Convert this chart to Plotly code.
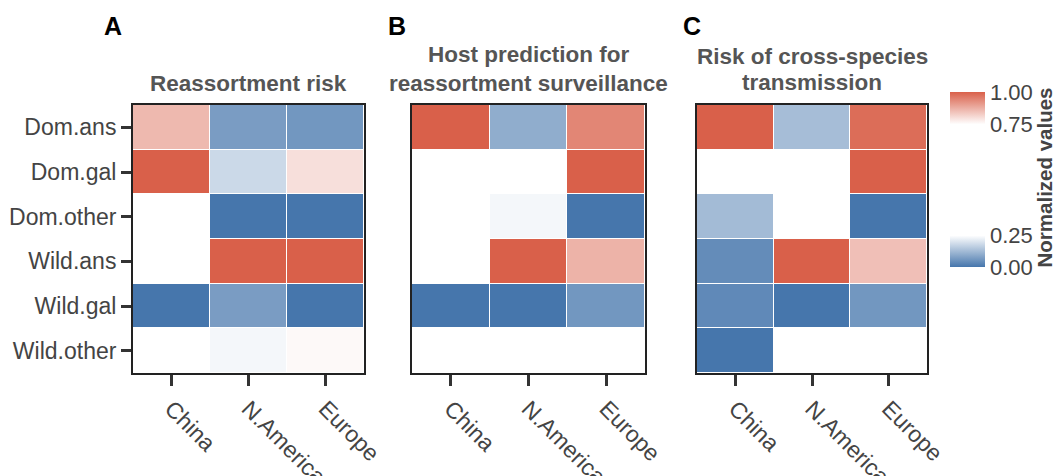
import plotly.graph_objects as go

regions = ["China", "N.America", "Europe"]
hosts = ["Dom.ans", "Dom.gal", "Dom.other", "Wild.ans", "Wild.gal", "Wild.other"]

panel_letters = ["A", "B", "C"]
panel_title_lines = [["Reassortment risk"],
                     ["Host prediction for", "reassortment surveillance"],
                     ["Risk of cross-species", "transmission"]]
colorbar_title = "Normalized values"

# normalized values, rows = hosts, cols = regions (None = blank)
reassortment_risk = [
    [0.86, 0.07, 0.06],
    [1.00, 0.18, 0.80],
    [None, 0.00, 0.00],
    [None, 1.00, 1.00],
    [0.00, 0.07, 0.00],
    [None, 0.235, 0.76],
]
host_prediction = [
    [1.00, 0.10, 0.94],
    [None, None, 1.00],
    [None, 0.235, 0.00],
    [None, 1.00, 0.87],
    [0.00, 0.00, 0.06],
    [None, None, None],
]
cross_species = [
    [1.00, 0.13, 0.98],
    [None, None, 1.00],
    [0.125, None, 0.00],
    [0.04, 1.00, 0.85],
    [0.035, 0.00, 0.06],
    [0.00, None, None],
]
panel_values = [reassortment_risk, host_prediction, cross_species]

cbar_tickvals = [0.0, 0.25, 0.75, 1.0]

# piecewise display scale: the colorbar shows only the two coloured ends
LOW_T, HIGH_T = 0.18, 0.815


def to_t(v):
    if v is None:
        return None
    if v <= 0.25:
        return v / 0.25 * LOW_T
    if v <= 0.75:
        return LOW_T + (v - 0.25) / 0.5 * (HIGH_T - LOW_T)
    return HIGH_T + (v - 0.75) / 0.25 * (1 - HIGH_T)


OFF = 8                      # page body margin
W, H = 1063 - 2 * OFF, 476 - OFF
FONT = "Liberation Sans, Arial, sans-serif"
BLUE = "#4676AC"
RED = "#D9604A"


def px(x):
    return (x - OFF) / W


def py(y):
    return 1 - (y - OFF) / H


domains_px = [(133, 364), (412, 645), (697, 927)]
y_top, y_bot = 105, 373

fig = go.Figure()
for i, vals in enumerate(panel_values):
    z = [[to_t(v) for v in row] for row in vals]
    fig.add_trace(go.Heatmap(
        x=regions, y=hosts, z=z, coloraxis="coloraxis",
        xgap=1, ygap=1,
        xaxis="x" if i == 0 else f"x{i+1}",
        yaxis="y" if i == 0 else f"y{i+1}",
        hoverinfo="skip",
    ))

layout = dict(
    width=W, height=H,
    margin=dict(l=0, r=0, t=0, b=0),
    paper_bgcolor="white", plot_bgcolor="white",
    font=dict(family=FONT, color="#444"),
    showlegend=False,
    coloraxis=dict(
        colorscale=[[0, BLUE], [LOW_T, "#FFFFFF"], [HIGH_T, "#FFFFFF"], [1, RED]],
        cmin=0, cmax=1,
        colorbar=dict(
            x=px(950), xanchor="left", xpad=0, ypad=0,
            y=py(179.5), yanchor="middle",
            thickness=35, thicknessmode="pixels",
            len=175, lenmode="pixels",
            outlinewidth=0, ticks="",
            tickvals=[to_t(v) for v in cbar_tickvals],
            ticktext=[f"{v:.2f}" for v in cbar_tickvals],
            tickfont=dict(size=22, color="#444", family=FONT),
        ),
    ),
)

annotations = []
for i, (x0, x1) in enumerate(domains_px):
    xa = "xaxis" if i == 0 else f"xaxis{i+1}"
    ya = "yaxis" if i == 0 else f"yaxis{i+1}"
    layout[xa] = dict(
        domain=[px(x0), px(x1)], anchor="y" if i == 0 else f"y{i+1}",
        showline=True, mirror=True, linecolor="#222", linewidth=2,
        ticks="outside", ticklen=11, tickwidth=3, tickcolor="#333",
        tickangle=45, tickfont=dict(size=23, color="#444", family=FONT),
        showgrid=False, zeroline=False, automargin=False, fixedrange=True,
    )
    layout[ya] = dict(
        domain=[py(y_bot), py(y_top)],
        anchor="x" if i == 0 else f"x{i+1}",
        autorange="reversed",
        showline=True, mirror=True, linecolor="#222", linewidth=2,
        ticks="outside" if i == 0 else "", ticklen=10, tickwidth=3, tickcolor="#333",
        showticklabels=(i == 0),
        tickfont=dict(size=23, color="#444", family=FONT),
        showgrid=False, zeroline=False, automargin=False, fixedrange=True,
    )

title_line_y = [[83], [55, 83], [57, 82]]
for i, (x0, x1) in enumerate(domains_px):
    cx = (x0 + x1) / 2
    for line, ly in zip(panel_title_lines[i], title_line_y[i]):
        annotations.append(dict(
            text=f"<b>{line}</b>", x=px(cx), y=py(ly),
            xref="paper", yref="paper", xanchor="center", yanchor="middle",
            showarrow=False, font=dict(size=22.5, color="#555", family=FONT),
        ))

letter_x = [113, 397, 692]
for i, lx in enumerate(letter_x):
    annotations.append(dict(
        text=f"<b>{panel_letters[i]}</b>", x=px(lx), y=py(26),
        xref="paper", yref="paper", xanchor="center", yanchor="middle",
        showarrow=False, font=dict(size=25, color="#000", family=FONT),
    ))

annotations.append(dict(
    text=f"<b>{colorbar_title}</b>", x=px(1044), y=py(177.5),
    xref="paper", yref="paper", xanchor="center", yanchor="middle",
    textangle=-90, showarrow=False,
    font=dict(size=20.5, color="#444", family=FONT),
))

layout["annotations"] = annotations
fig.update_layout(**layout)
fig.write_html("out.html")
